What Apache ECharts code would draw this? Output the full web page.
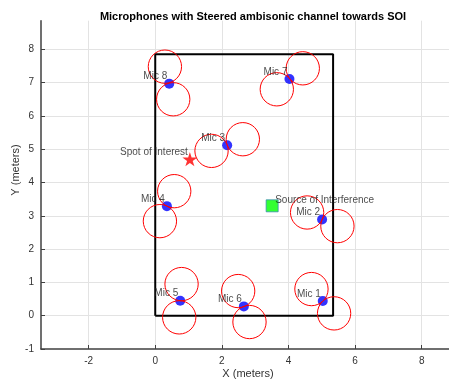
<!DOCTYPE html>
<html>
<head>
<meta charset="utf-8">
<script src="https://cdn.jsdelivr.net/npm/echarts@6/dist/echarts.min.js"></script>
<style>html,body{margin:0;padding:0;background:#fff}#c{width:449px;height:382px}</style>
</head>
<body>
<div id="c"></div>
<script>
const micNames = ['Mic 1','Mic 2','Mic 3','Mic 4','Mic 5','Mic 6','Mic 7','Mic 8'];
const micX = [5.03, 5.01, 2.16, 0.35, 0.75, 2.66, 4.03, 0.42];
const micY = [0.44, 2.89, 5.12, 3.29, 0.45, 0.28, 7.11, 6.97];
const lobeAX = [4.69, 4.56, 1.69, 0.57, 0.79, 2.49, 3.65, 0.29];
const lobeAY = [0.80, 3.10, 4.95, 3.74, 0.95, 0.74, 6.80, 7.48];
const lobeBX = [5.37, 5.47, 2.63, 0.14, 0.72, 2.83, 4.43, 0.54];
const lobeBY = [0.07, 2.69, 5.30, 2.84, -0.05, -0.19, 7.43, 6.50];
const lobeR = 0.5;
const roomW = 5.34, roomH = 7.85;
const soi = [1.04, 4.70];
const soiName = 'Spot of Interest';
const interf = [3.51, 3.30];
const interfName = 'Source of Interference';
const xTicks = [-2, 0, 2, 4, 6, 8];
const yTicks = [-1, 0, 1, 2, 3, 4, 5, 6, 7, 8];

const FONT = "'Liberation Sans', Arial, Helvetica, sans-serif";
const chart = echarts.init(document.getElementById('c'), null, {renderer: 'canvas'});

const micData = micX.map((x, i) => [x, micY[i], micNames[i]]);
const lobeData = [];
micX.forEach((_, i) => {
  lobeData.push([lobeAX[i], lobeAY[i], lobeR]);
  lobeData.push([lobeBX[i], lobeBY[i], lobeR]);
});
const roomData = [[0,0],[roomW,0],[roomW,roomH],[0,roomH],[0,0]];
const gridLineStyle = {color: '#e3e3e3', width: 1, type: 'solid'};

chart.setOption({
  animation: false,
  backgroundColor: '#fff',
  title: {
    text: 'Microphones with Steered ambisonic channel towards SOI',
    left: 248, top: 6, textAlign: 'center',
    textStyle: {fontSize: 11, fontWeight: 'bold', color: '#000', fontFamily: FONT}
  },
  grid: {left: 41, top: 20.7, right: 0, bottom: 33, containLabel: false},
  xAxis: {
    type: 'value', min: -3.43, max: 8.82,
    axisLine: {show: true, onZero: false, lineStyle: {color: '#404040', width: 1.5}},
    axisTick: {show: true, inside: true, length: 4, customValues: xTicks, lineStyle: {color: '#404040'}},
    splitLine: {show: false},
    axisLabel: {customValues: xTicks, margin: 7, color: '#333', fontSize: 10, fontFamily: FONT}
  },
  yAxis: {
    type: 'value', min: -1, max: 8.86,
    axisLine: {show: true, onZero: false, lineStyle: {color: '#404040', width: 1.5}},
    axisTick: {show: true, inside: true, length: 4, customValues: yTicks, lineStyle: {color: '#404040'}},
    splitLine: {show: false},
    axisLabel: {customValues: yTicks, margin: 7, color: '#333', fontSize: 10, fontFamily: FONT}
  },
  graphic: [
    {type: 'text', style: {text: 'X (meters)', x: 248, y: 374, align: 'center', verticalAlign: 'middle', fill: '#333', font: "11px " + FONT}},
    {type: 'text', x: 16, y: 170, rotation: Math.PI/2, style: {text: 'Y (meters)', align: 'center', verticalAlign: 'middle', fill: '#333', font: "11px " + FONT}}
  ],
  series: [
    {
      type: 'line', data: [], z: 0, zlevel: 0, silent: true,
      markLine: {
        silent: true, symbol: ['none', 'none'], label: {show: false}, animation: false, z: 0,
        lineStyle: gridLineStyle,
        data: xTicks.map(v => ({xAxis: v})).concat(yTicks.filter(v => v > -1).map(v => ({yAxis: v})))
      }
    },
    {
      type: 'line', data: roomData, symbol: 'none', z: 3,
      lineStyle: {color: '#000', width: 2}
    },
    {
      type: 'scatter', data: micData, symbol: 'circle', symbolSize: 10, z: 4,
      itemStyle: {color: '#0000ff'}
    },
    {
      type: 'custom', data: lobeData, z: 5,
      renderItem: function (params, api) {
        const c = api.coord([api.value(0), api.value(1)]);
        const s = api.size([api.value(2), api.value(2)]);
        return {type: 'circle', shape: {cx: c[0], cy: c[1], r: s[0]},
          style: {fill: 'none', stroke: '#ff0000', lineWidth: 1}};
      }
    },
    {
      type: 'scatter', data: [soi], symbol: 'path://M50,0 L61,35 L98,35 L68,57 L79,91 L50,70 L21,91 L32,57 L2,35 L39,35 Z',
      symbolSize: 15, symbolKeepAspect: true, z: 6, itemStyle: {color: '#ff0000'}
    },
    {
      type: 'scatter', data: [interf], symbol: 'rect', symbolSize: 12, z: 6,
      itemStyle: {color: '#00ff00', borderColor: '#3a8fb0', borderWidth: 1}
    },
    {
      type: 'scatter', data: micData.concat([[soi[0], soi[1], soiName]]), symbolSize: 10, z: 7,
      itemStyle: {color: 'rgba(0,0,0,0)'}, silent: true,
      label: {show: true, formatter: p => p.data[2], position: [3, -2], align: 'right', verticalAlign: 'middle',
        fontSize: 10, color: '#1a1a1a', fontFamily: FONT}
    },
    {
      type: 'scatter', data: [[interf[0], interf[1], interfName]], symbolSize: 12, z: 7,
      itemStyle: {color: 'rgba(0,0,0,0)'}, silent: true,
      label: {show: true, formatter: p => p.data[2], position: [9, 0], align: 'left', verticalAlign: 'middle',
        fontSize: 10, color: '#1a1a1a', fontFamily: FONT}
    }
  ]
});
</script>
</body>
</html>
